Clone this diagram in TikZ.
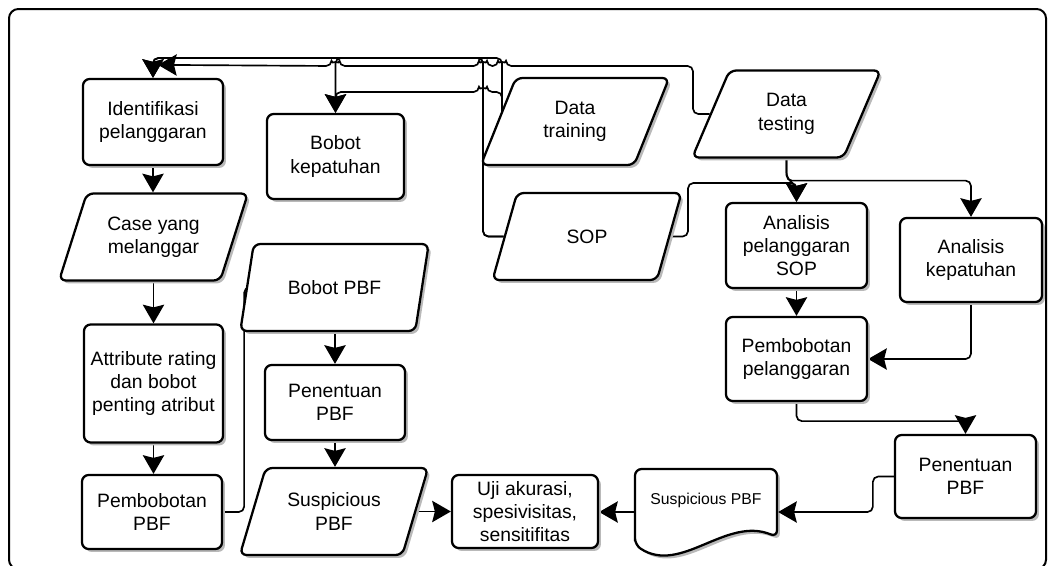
\documentclass[tikz,border=0pt]{standalone}
\usepackage{fontspec}
\setmainfont{Liberation Sans}
\usetikzlibrary{arrows.meta,shapes.geometric,shadows,backgrounds,calc}
\newcommand\mainf{\fontsize{14.5pt}{17.5pt}\selectfont}
\newcommand\smallf{\fontsize{11.8pt}{14pt}\selectfont}
\tikzset{
  boxshadow/.style={drop shadow={shadow xshift=2.2pt,shadow yshift=-2.2pt,fill=gray!55,opacity=1}},
  box/.style={draw,line width=1.7pt,rounded corners=5pt,fill=white,align=center,font=\mainf,inner sep=1.5pt,boxshadow},
  io/.style={box,trapezium,trapezium left angle=66,trapezium right angle=114,trapezium stretches=true,minimum width=141.75pt,minimum height=65.25pt},
  frameline/.style={line width=1.5pt,rounded corners=7pt},
  conn/.style={line width=1.25pt,rounded corners=4pt},
  arr/.style={conn,-{Stealth[length=14pt,width=16pt,inset=2pt]}},
}
\begin{document}
\begin{tikzpicture}[x=0.75pt,y=-0.75pt]
\useasboundingbox (0,0) rectangle (1051,565);
% nodes
\node[box,minimum width=105pt,minimum height=64.5pt] (ident) at (153,122) {Identifikasi\\pelanggaran};
\node[box,minimum width=102.75pt,minimum height=63.75pt] (bobotk) at (335.5,156.5) {Bobot\\kepatuhan};
\node[io] (case) at (153.5,237) {Case yang\\melanggar};
\node[box,minimum width=104.25pt,minimum height=88.5pt] (attr) at (153.5,383.5) {Attribute rating\\dan bobot\\penting atribut};
\node[box,minimum width=105pt,minimum height=55.5pt] (pbf) at (152,512) {Pembobotan\\PBF};
\node[io] (bobotpbf) at (334.5,287.5) {Bobot PBF};
\node[box,minimum width=105pt,minimum height=56.25pt] (penM) at (335,402.5) {Penentuan\\PBF};
\node[io] (suspP) at (334,511.5) {Suspicious\\PBF};
\node[box,minimum width=109.5pt,minimum height=54.75pt,inner sep=0.5pt] (uji) at (525,511.5) {Uji akurasi,\\spesivisitas,\\sensitifitas};
\node[io] (dtrain) at (575,121.5) {Data\\training};
\node[io] (dtest) at (786.5,114) {Data\\testing};
\node[io] (sop) at (587,236.5) {SOP};
\node[box,minimum width=105.75pt,minimum height=63.75pt] (anaP) at (796.5,245.5) {Analisis\\pelanggaran\\SOP};
\node[box,minimum width=106.5pt,minimum height=63pt] (anaK) at (971,260) {Analisis\\kepatuhan};
\node[box,minimum width=105.75pt,minimum height=63pt] (pemP) at (796.5,359) {Pembobotan\\pelanggaran};
\node[box,minimum width=105.75pt,minimum height=62.25pt] (penR) at (965.5,476.5) {Penentuan\\PBF};
\node[font=\smallf,minimum width=106.5pt,text height=8pt,text depth=19pt,inner sep=0pt,outer sep=0.85pt] (doc) at (706,512) {Suspicious PBF};
\begin{scope}[on background layer]
\draw[frameline] (9,9) rectangle (1046,569);
\begin{scope}[shift={(doc.center)}]
\draw[line width=1.7pt,rounded corners=5pt,fill=white,boxshadow] (-71,33) -- (-71,-43) -- (71,-43) -- (71,25) .. controls (20,4) and (-25,63) .. (-71,33) -- cycle;
\end{scope}
% left column
\draw[arr] (ident.south) -- (ident.south |- case.north);
\draw[arr] (attr.north |- case.south) -- (attr.north);
\draw[arr] (attr.south) -- (attr.south |- pbf.north);
\draw[arr] (pbf.east) -- ++(21,0) |- (bobotpbf.west);
\draw[arr] (penM.north |- bobotpbf.south) -- (penM.north);
\draw[arr] (penM.south) -- (penM.south |- suspP.north);
\draw[arr] (suspP.east) -- (suspP.east -| uji.west);
\draw[arr] (doc.west) -- (doc.west -| uji.east);
% right part
\draw[arr] (penR.west) -- ++(-21,0) |- (doc.east);
\draw[arr] (pemP.south) -- ++(0,19) -| (penR.north);
\draw[arr] (anaK.south) |- (pemP.east);
\draw[arr] (anaP.south) -- (pemP.north);
\draw[arr] (sop.east) -| (688,183) -| (anaP.north);
\draw[arr] (dtest.south -| dtest.center) -- ++(0,19) -- ++(10,9) -- (anaP.north);
\draw[arr] (dtest.south -| dtest.center) -- ++(0,22) -| (anaK.north);
% top wiring
\draw[arr] (sop.west) -| (483,58) -| (ident.north);
\draw[arr] (sop.west) -| (483,58) -| (bobotk.north);
\draw[arr] (dtrain.west -| 502,0) -- (502,58) -| (ident.north);
\draw[arr] (dtrain.west -| 502,0) -- (502,92) -- (487,92) arc[start angle=0,end angle=-180,radius=4] -| (bobotk.north);
\draw[arr] (dtest.west) -| (693,66) -- (506,66) arc[start angle=0,end angle=-180,radius=4] -- (487,66) arc[start angle=0,end angle=-180,radius=4] -- (339.5,66) arc[start angle=0,end angle=-180,radius=4] -- ($(ident.north)+(5,-13)$);
\end{scope}
\end{tikzpicture}
\end{document}
